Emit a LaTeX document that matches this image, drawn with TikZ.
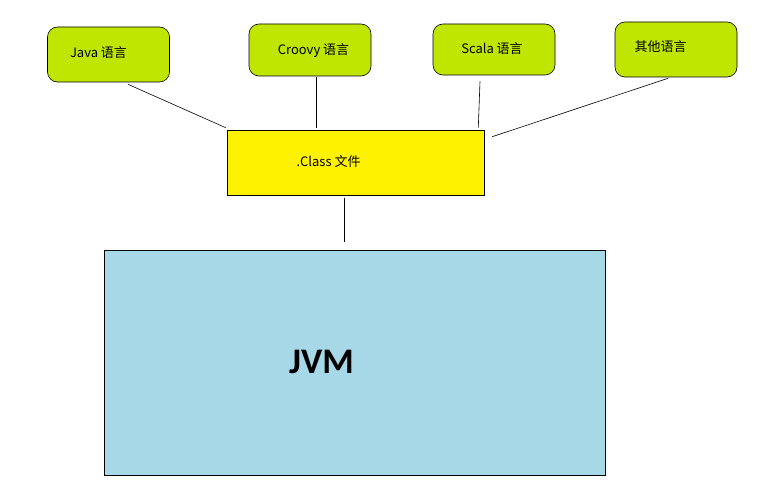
\documentclass[tikz,border=0pt]{standalone}
\usepackage{fontspec}
\newfontfamily\cjk{Noto Sans CJK SC}
\newfontfamily\jvmfont{Carlito}
\usepackage{tikz}
\usetikzlibrary{positioning,calc}
\definecolor{langgreen}{RGB}{191,230,0}
\definecolor{classyellow}{RGB}{255,242,0}
\definecolor{jvmblue}{RGB}{166,216,232}
\tikzset{
  langbox/.style={draw,fill=langgreen,rounded corners=10pt,minimum width=122pt,inner sep=0pt},
  plainbox/.style={draw,inner sep=0pt},
  langtxt/.style={font=\cjk\fontsize{13}{15}\selectfont,inner sep=0pt}
}
\begin{document}
\begin{tikzpicture}[x=1pt,y=-1pt,semithick]
\useasboundingbox (0,0) rectangle (769,503);
% language boxes
\node (java) at (108.5,54.5) [langbox,minimum height=55pt] {};
\node (croovy) at (310,50) [langbox,minimum height=52pt] {};
\node (scala) at (494,49.5) [langbox,minimum height=51pt] {};
\node (other) at (676,49.5) [langbox,minimum height=55pt] {};
\node (javatxt) at (98.5,53) [langtxt] {Java 语言};
\node (croovytxt) at (313.5,51) [langtxt] {Croovy 语言};
\node (scalatxt) at (492,49) [langtxt] {Scala 语言};
\node (othertxt) at (660.5,47) [langtxt] {其他语言};
% class file and jvm
\node (cls) at (355.5,162.5) [plainbox,fill=classyellow,minimum width=257pt,minimum height=65pt] {};
\node (clstxt) at (328.5,162) [langtxt] {.Class 文件};
\node (jvm) at (354.5,362.5) [plainbox,fill=jvmblue,minimum width=501pt,minimum height=225pt] {};
\node (jvmtxt) at (321.5,362) [inner sep=0pt,font=\jvmfont\bfseries\fontsize{36}{42}\selectfont] {JVM};

\draw ([shift={(19.5pt,-2pt)}]java.south) edge ([shift={(-1pt,2pt)}]cls.north west);
\draw ([shift={(6pt,-1pt)}]croovy.south) edge ([shift={(-39.5pt,2pt)}]cls.north);
\draw ([shift={(-14pt,-6pt)}]scala.south) edge ([shift={(-6pt,2pt)}]cls.north east);
\draw ([shift={(-8pt,-1pt)}]other.south) edge ([shift={(8pt,-7pt)}]cls.north east);
\draw ([shift={(-11.5pt,-3pt)}]cls.south) edge ([shift={(-10.5pt,8pt)}]jvm.north);

\end{tikzpicture}
\end{document}
